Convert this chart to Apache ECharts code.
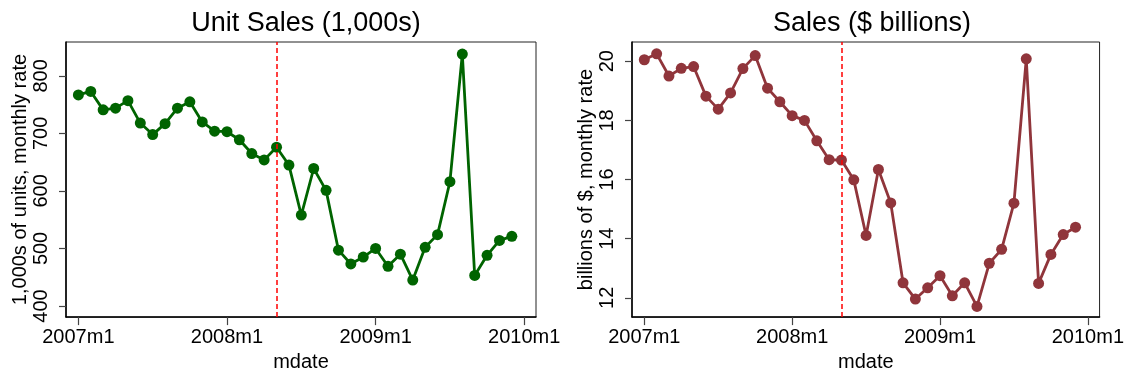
<!DOCTYPE html>
<html>
<head>
<meta charset="utf-8">
<script src="https://cdn.jsdelivr.net/npm/echarts@6/dist/echarts.min.js"></script>
<style>
html,body{margin:0;padding:0;background:#fff;}
#chart{width:1127px;height:377px;}
</style>
</head>
<body>
<div id="chart"></div>
<script>
const months = ["2007m1","2007m2","2007m3","2007m4","2007m5","2007m6","2007m7","2007m8","2007m9","2007m10","2007m11","2007m12",
"2008m1","2008m2","2008m3","2008m4","2008m5","2008m6","2008m7","2008m8","2008m9","2008m10","2008m11","2008m12",
"2009m1","2009m2","2009m3","2009m4","2009m5","2009m6","2009m7","2009m8","2009m9","2009m10","2009m11","2009m12"];
const unitSales = [767, 773, 741, 744, 757, 718, 698, 717, 744, 755, 720, 704,
  703, 689, 665, 654, 676, 645, 558, 639, 601, 497, 473, 485,
  500, 469, 490, 445, 502, 524, 616, 838, 453, 488, 514, 521];
const dollarSales = [20.05, 20.25, 19.5, 19.76, 19.82, 18.82, 18.38, 18.93, 19.75, 20.19, 19.09, 18.63,
  18.16, 18.0, 17.31, 16.67, 16.66, 15.99, 14.11, 16.34, 15.21, 12.51, 11.96, 12.34,
  12.75, 12.07, 12.51, 11.71, 13.17, 13.64, 15.2, 20.08, 12.49, 13.47, 14.14, 14.39];
const xTickLabels = ["2007m1","2008m1","2009m1","2010m1"];
const leftYTicks = [400, 500, 600, 700, 800];
const rightYTicks = [12, 14, 16, 18, 20];
const eventMonth = "2008m5";

const FONT = 'Arial, "Liberation Sans", sans-serif';
const xTickVals = xTickLabels.map(l => {
  const m = l.match(/(\d+)m(\d+)/);
  return (parseInt(m[1]) - 2007) * 12 + parseInt(m[2]) - 1;
});
const eventIdx = months.indexOf(eventMonth);
const labelByVal = {};
xTickVals.forEach((v, i) => labelByVal[v] = xTickLabels[i]);

function xAxis(gi) {
  return {
    type: 'value', gridIndex: gi, min: -1.0, max: 36.95,
    name: 'mdate', nameLocation: 'middle', nameGap: 30,
    nameTextStyle: {fontFamily: FONT, fontSize: 20, color: '#000'},
    axisLine: {onZero: false, lineStyle: {color: '#000', width: 1.5}},
    axisTick: {length: 8, customValues: xTickVals, lineStyle: {color: '#444', width: 1.2}},
    axisLabel: {customValues: xTickVals, margin: 10, fontFamily: FONT, fontSize: 20, color: '#000',
      formatter: v => labelByVal[v] || ''},
    splitLine: {show: false}
  };
}
function yAxis(gi, min, max, ticks, name) {
  return {
    type: 'value', gridIndex: gi, min: min, max: max,
    name: name, nameLocation: 'middle', nameGap: 36, nameRotate: 90,
    nameTextStyle: {fontFamily: FONT, fontSize: 20, color: '#000'},
    axisLine: {show: true, onZero: false, lineStyle: {color: '#000', width: 1.5}},
    axisTick: {show: true, length: 7, customValues: ticks, lineStyle: {color: '#444', width: 1.2}},
    axisLabel: {customValues: ticks, rotate: 90, margin: 15, fontFamily: FONT, fontSize: 20, color: '#000'},
    splitLine: {show: false}
  };
}
function series(gi, vals, color) {
  return {
    type: 'line', xAxisIndex: gi, yAxisIndex: gi,
    data: vals.map((v, i) => [i, v]),
    symbol: 'circle', symbolSize: 11,
    lineStyle: {color: color, width: 2.8},
    itemStyle: {color: color},
    markLine: {
      silent: true, symbol: 'none', label: {show: false},
      lineStyle: {color: '#ff0000', type: [5, 3], width: 1.5},
      data: [{xAxis: eventIdx}]
    },
    z: 3
  };
}

const chart = echarts.init(document.getElementById('chart'), null, {renderer: 'canvas'});
chart.setOption({
  animation: false,
  backgroundColor: '#fff',
  title: [
    {text: 'Unit Sales (1,000s)', left: 301, top: 5, textAlign: 'center',
      textStyle: {fontFamily: FONT, fontSize: 27, fontWeight: 'normal', color: '#000'}},
    {text: 'Sales ($ billions)', left: 867, top: 5, textAlign: 'center',
      textStyle: {fontFamily: FONT, fontSize: 27, fontWeight: 'normal', color: '#000'}}
  ],
  grid: [
    {left: 66, right: 591, top: 42, bottom: 53, show: true, borderColor: '#222', borderWidth: 1, backgroundColor: '#fff'},
    {left: 632, right: 24, top: 42, bottom: 53, show: true, borderColor: '#222', borderWidth: 1, backgroundColor: '#fff'}
  ],
  xAxis: [xAxis(0), xAxis(1)],
  yAxis: [
    yAxis(0, 380.6, 859, leftYTicks, '1,000s of units, monthly rate'),
    yAxis(1, 11.35, 20.65, rightYTicks, 'billions of $, monthly rate')
  ],
  series: [
    series(0, unitSales, '#006400'),
    series(1, dollarSales, '#90353B')
  ]
});
</script>
</body>
</html>
